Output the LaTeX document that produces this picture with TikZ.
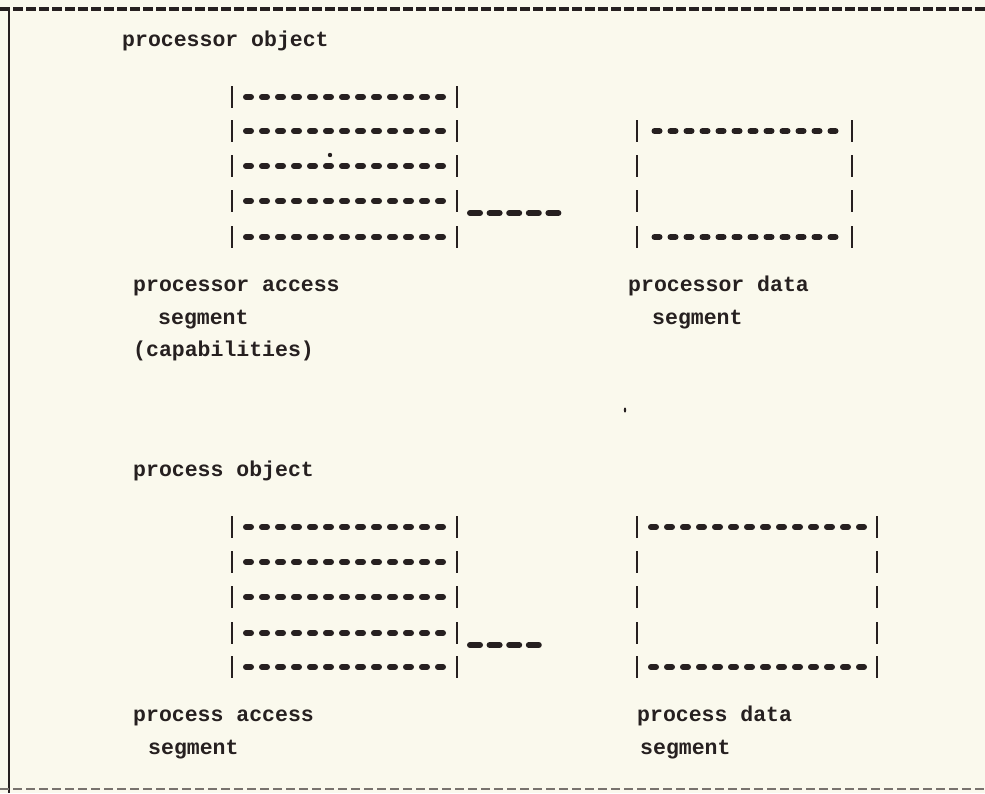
\documentclass[tikz,border=0pt]{standalone}
\usepackage{fontspec}
\setmonofont{Liberation Mono}
\definecolor{paper}{RGB}{250,249,237}
\definecolor{inkc}{RGB}{38,32,32}
\definecolor{faint}{RGB}{120,115,110}
\begin{document}
\begin{tikzpicture}[x=1pt,y=-1pt,
  dashrow/.style={draw=inkc, line width=6pt, line cap=round, dash pattern=on 5pt off 11pt},
  vbar/.style={draw=inkc, line width=2.6pt},
  conn/.style={draw=inkc, line width=6pt, line cap=round, dash pattern=on 10pt off 9.6pt},
  border/.style={draw=inkc, line width=3.6pt, dash pattern=on 10pt off 3pt},
  lborder/.style={draw=inkc, line width=2pt},
  bborder/.style={draw=faint, line width=1.6pt, dash pattern=on 9pt off 4pt},
  lbl/.style={anchor=base west, inner sep=0pt, text=inkc, font=\ttfamily\bfseries\fontsize{21.5}{22}\selectfont}
]
\fill[paper] (0,0) rectangle (985,793);
\useasboundingbox (0,0) rectangle (985,793);
% frame
\coordinate (tl) at (0,9);
\coordinate (tr) at (985,9);
\coordinate (lt) at (9,9);
\coordinate (lb) at (9,793);
\coordinate (bl) at (0,789);
\coordinate (br) at (985,789);
\draw[border] (tl) -- (tr);
\draw[lborder] (lt) -- (lb);
\draw[bborder] (bl) -- (br);

% ---------- processor object ----------
\node[lbl] (procobj) at (122,46) {processor object};
% access segment box
\foreach \y in {97,131,166,201,237}{
  \draw[vbar] (232,\y-11) -- (232,\y+11);
  \draw[vbar] (457,\y-11) -- (457,\y+11);
  \draw[dashrow] (246,\y) -- (443,\y);
}
\coordinate (pa) at (470,213);
\coordinate (pb) at (559,213);
\draw[conn] (pa) -- (pb);
% data segment box
\foreach \y in {131,166,201,237}{
  \draw[vbar] (637,\y-11) -- (637,\y+11);
  \draw[vbar] (852,\y-11) -- (852,\y+11);
}
\foreach \y in {131,237}{
  \draw[dashrow] (654.5,\y) -- (835.5,\y);
}
\fill[inkc] (330,155) circle (2.2);
\node[lbl] (pas1) at (133,291) {processor access};
\node[lbl] (pas2) at (158,324) {segment};
\node[lbl] (pas3) at (133,356) {(capabilities)};
\node[lbl] (pds1) at (628,291) {processor data};
\node[lbl] (pds2) at (652,324) {segment};
\fill[inkc] (625,410) ellipse (1.2 and 2.5);

% ---------- process object ----------
\node[lbl] (prcobj) at (133,476) {process object};
\foreach \y in {527,562,597,633,667}{
  \draw[vbar] (232,\y-11) -- (232,\y+11);
  \draw[vbar] (457,\y-11) -- (457,\y+11);
  \draw[dashrow] (246,\y) -- (443,\y);
}
\coordinate (qa) at (470,645);
\coordinate (qb) at (539.5,645);
\draw[conn] (qa) -- (qb);
\foreach \y in {527,562,597,633,667}{
  \draw[vbar] (637,\y-11) -- (637,\y+11);
  \draw[vbar] (877,\y-11) -- (877,\y+11);
}
\foreach \y in {527,667}{
  \draw[dashrow] (651,\y) -- (864,\y);
}
\node[lbl] (qas1) at (133,721) {process access};
\node[lbl] (qas2) at (148,754) {segment};
\node[lbl] (qds1) at (637,721) {process data};
\node[lbl] (qds2) at (640,754) {segment};
\end{tikzpicture}
\end{document}
